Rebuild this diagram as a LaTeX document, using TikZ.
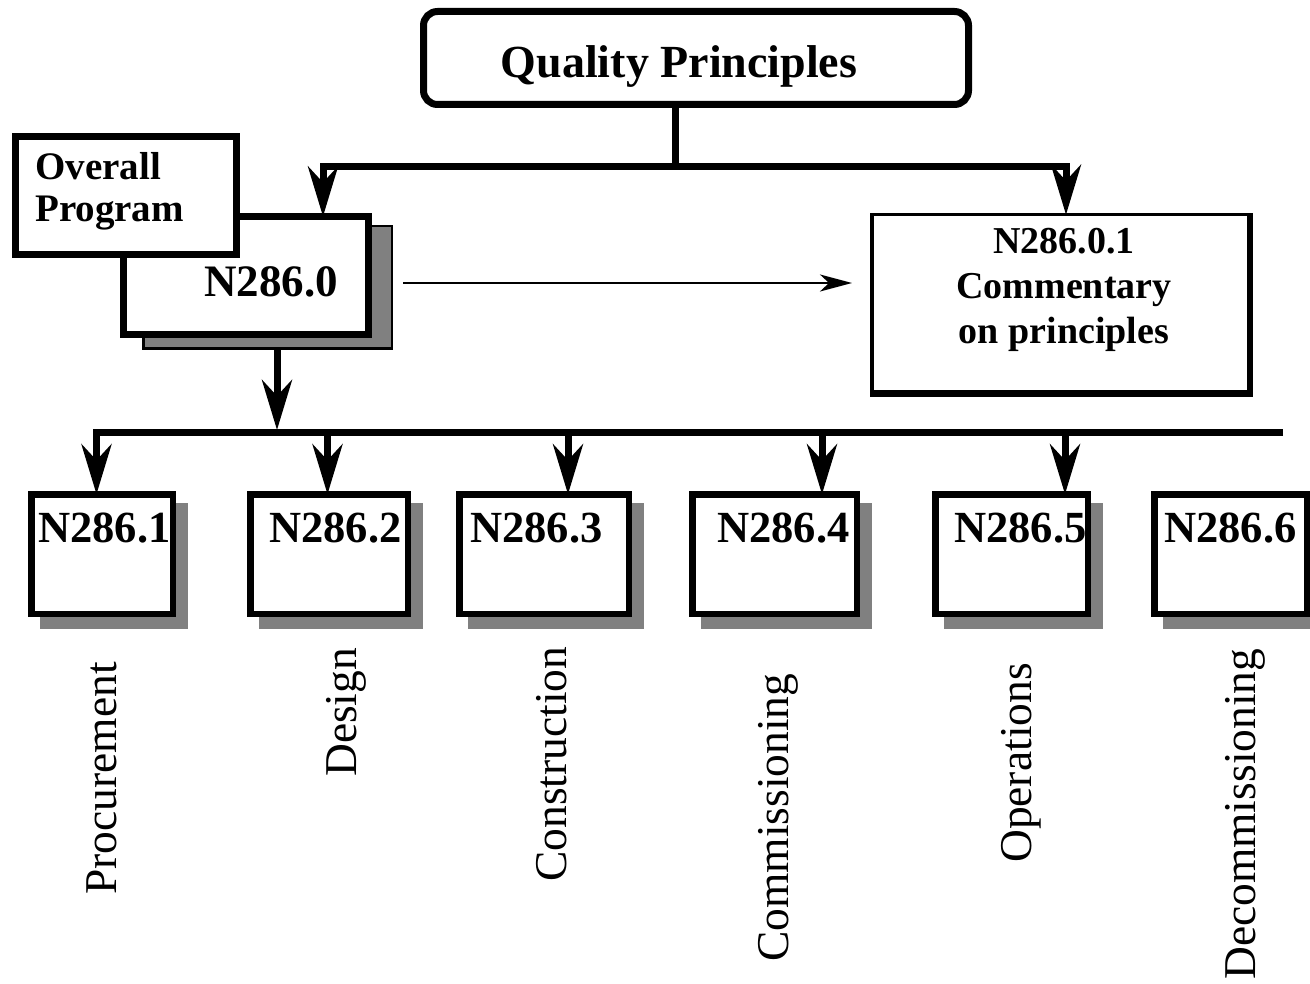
\documentclass[tikz,border=0pt]{standalone}
\usepackage{fontspec}
\setmainfont{Liberation Serif}
\usetikzlibrary{arrows.meta}
\definecolor{shadowgray}{RGB}{128,128,128}
\begin{document}
\begin{tikzpicture}[x=1pt,y=-1pt,
  heavy/.style={line width=7pt},
  bighead/.style={-{Stealth[length=50pt,width=30pt,inset=16pt]}},
  smallhead/.style={-{Stealth[length=32pt,width=17pt,inset=9pt]}},
  whitebox/.style={fill=white,inner sep=0pt,outer sep=0pt},
  boxline/.style={line width=6.5pt},
  shadowbox/.style={fill=shadowgray,inner sep=0pt,outer sep=0pt},
  idtext/.style={font=\bfseries\fontsize{44.5}{50}\selectfont,inner sep=0pt,anchor=base west},
  vlabel/.style={font=\fontsize{45.5}{50}\selectfont,inner sep=0pt,rotate=90,anchor=base west},
]
\useasboundingbox (0,0) rectangle (1310,984);

% ---------- top box ----------
\node[whitebox,draw,line width=7pt,rounded corners=14pt,minimum width=545pt,minimum height=93pt] (qp) at (696,58) {};
\node[font=\bfseries\fontsize{46}{50}\selectfont,inner sep=0pt,anchor=base] (qpt) at (679,78) {Quality Principles};

% ---------- N286.0 with shadow ----------
\node[shadowbox,draw,line width=2.5pt,minimum width=248.5pt,minimum height=122.5pt] (s0) at (267.5,287.5) {};
\node[whitebox,draw,line width=7pt,minimum width=245pt,minimum height=118pt] (n0) at (246,275.5) {};
\node[font=\bfseries\fontsize{45}{50}\selectfont,inner sep=0pt,anchor=base west] (n0t) at (204,297) {N286.0};

% ---------- Overall Program ----------
\node[whitebox,draw,line width=7pt,minimum width=221pt,minimum height=118pt] (op) at (126,195.5) {};
\node[font=\bfseries\fontsize{39}{42}\selectfont,inner sep=0pt,anchor=base west,align=left] (opt) at (35,222) {Overall\\Program};

% ---------- N286.0.1 ----------
\node[whitebox,draw,line width=3.5pt,minimum width=379.5pt,minimum height=180.5pt] (n01) at (1061.5,305) {};
\draw[line width=3.5pt] ([xshift=-3pt]n01.north east) -- ([xshift=-3pt,yshift=3pt]n01.south east) -- ([yshift=3pt]n01.south west);
\node[font=\bfseries\fontsize{38}{45}\selectfont,inner sep=0pt,align=center] (n01t) at (1064,290) {N286.0.1\\Commentary\\on principles};

% ---------- connectors, top ----------
\coordinate (qj) at (675.5,167);
\coordinate (d0) at (323,167);
\coordinate (d01) at (1066,167);
\draw[heavy] (qp.south -| qj) -- (qj);
\draw[heavy,bighead] (qj) -| (d0 |- n0.north);
\draw[heavy,bighead] (qj) -| (d01 |- n01.north);
\coordinate (ha) at (403,283);
\coordinate (hb) at (852,283);
\draw[line width=2.5pt,smallhead] (ha) -- (hb);

% ---------- lower boxes ----------
\foreach \i/\cx/\w in {1/102/141.5, 2/329/157.5, 3/544/169.5, 4/774.5/164.5, 5/1011.5/152.5, 6/1230.5/152.5}{
  \node[shadowbox,minimum width=\w pt+6.5pt,minimum height=126pt] (s\i) at (\cx+12,566) {};
  \node[whitebox,minimum width=\w pt,minimum height=119.5pt] (b\i) at (\cx,554) {};
}
\node[idtext] (t1) at (38,542) {N286.1};
\node[idtext] (t2) at (269,542) {N286.2};
\node[idtext] (t3) at (470,542) {N286.3};
\node[idtext] (t4) at (717,542) {N286.4};
\node[idtext] (t5) at (954,542) {N286.5};
\node[idtext] (t6) at (1164,542) {N286.6};
\foreach \i in {1,...,6}{
  \draw[boxline] (b\i.north west) rectangle (b\i.south east);
}

% ---------- lower bus ----------
\coordinate (dn) at (277,430);
\draw[heavy,bighead] (dn |- s0.south) -- (dn);
\coordinate (busR) at (1283,432);
\coordinate (e1) at (96.5,432);
\coordinate (e2) at (327.5,432);
\coordinate (e3) at (568,432);
\coordinate (e4) at (822,432);
\coordinate (e5) at (1065,432);
\draw[heavy,bighead] (busR) -- (e1) -- (e1 |- b1.north);
\foreach \i in {2,...,5}{
  \draw[heavy,bighead] (e\i) -- (e\i |- b\i.north);
}

% ---------- vertical labels ----------
\node[vlabel] (l1) at (116,895) {Procurement};
\node[vlabel] (l2) at (356,777) {Design};
\node[vlabel] (l3) at (566,882) {Construction};
\node[vlabel] (l4) at (788,962) {Commissioning};
\node[vlabel] (l5) at (1031,863) {Operations};
\node[vlabel] (l6) at (1255,980) {Decommissioning};
\end{tikzpicture}
\end{document}
